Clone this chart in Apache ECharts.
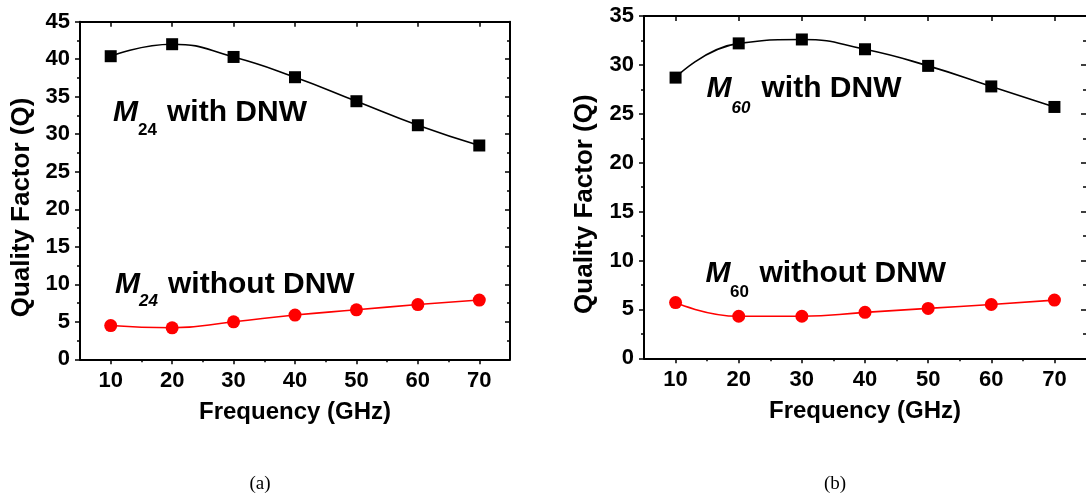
<!DOCTYPE html>
<html>
<head>
<meta charset="utf-8">
<script src="https://cdn.jsdelivr.net/npm/echarts@6/dist/echarts.min.js"></script>
<style>
  html, body { margin: 0; padding: 0; background: #fff; }
  #chart { width: 1086px; height: 501px; }
</style>
</head>
<body>
<div id="chart"></div>
<script>
// Frequency points (GHz)
const freq = [10, 20, 30, 40, 50, 60, 70];
// Quality factor, M24 inductor
const q24With = [40.4, 42.0, 40.3, 37.6, 34.4, 31.2, 28.5];
const q24Without = [4.5, 4.2, 5.0, 5.9, 6.6, 7.3, 7.9];
// Quality factor, M60 inductor
const q60With = [28.7, 32.2, 32.6, 31.6, 29.9, 27.8, 25.7];
const q60Without = [5.7, 4.3, 4.3, 4.7, 5.1, 5.5, 5.95];
// Tick positions on the frequency axis
const xMajorTicks = [10, 20, 30, 40, 50, 60, 70];
const xMinorTicks = [15, 25, 35, 45, 55, 65];

const SANS = '"Liberation Sans", Arial, Helvetica, sans-serif';
const SERIF = '"Liberation Serif", "Times New Roman", serif';

const pair = (xs, ys) => xs.map((x, i) => [x, ys[i]]);

const axisLine = { show: true, onZero: false, lineStyle: { color: '#000', width: 2 } };

function xAxesFor(gridIndex) {
  const base = { type: 'value', gridIndex, min: 5, max: 75, splitLine: { show: false } };
  return [
    Object.assign({}, base, {
      position: 'bottom',
      name: 'Frequency (GHz)', nameLocation: 'middle', nameGap: 41,
      nameTextStyle: { fontFamily: SANS, fontWeight: 'bold', fontSize: 24, color: '#000' },
      axisLine,
      axisTick: { show: true, inside: false, length: 5, customValues: xMajorTicks, lineStyle: { color: '#000', width: 1.5 } },
      axisLabel: { show: true, customValues: xMajorTicks, margin: 11, fontFamily: SANS, fontWeight: 'bold', fontSize: 22, color: '#000' }
    }),
    Object.assign({}, base, {
      position: 'bottom',
      axisLine: { show: false },
      axisTick: { show: true, inside: false, length: 3, customValues: xMinorTicks, lineStyle: { color: '#000', width: 1.5 } },
      axisLabel: { show: false }
    }),
    Object.assign({}, base, {
      position: 'top',
      axisLine,
      axisTick: { show: true, inside: true, length: 5, customValues: xMajorTicks, lineStyle: { color: '#000', width: 1.5 } },
      axisLabel: { show: false }
    }),
    Object.assign({}, base, {
      position: 'top',
      axisLine: { show: false },
      axisTick: { show: true, inside: true, length: 3, customValues: xMinorTicks, lineStyle: { color: '#000', width: 1.5 } },
      axisLabel: { show: false }
    })
  ];
}

function yAxesFor(gridIndex, max, nameGap, rightLine) {
  const base = {
    type: 'value', gridIndex, min: 0, max, interval: 5, splitLine: { show: false },
    axisLine
  };
  return [
    Object.assign({}, base, {
      position: 'left',
      name: 'Quality Factor (Q)', nameLocation: 'middle', nameGap,
      nameTextStyle: { fontFamily: SANS, fontWeight: 'bold', fontSize: 26, color: '#000', padding: [0, 34, 0, 0] },
      axisTick: { show: true, inside: false, length: 5, lineStyle: { color: '#000', width: 1.5 } },
      minorTick: { show: true, splitNumber: 2, length: 3, lineStyle: { color: '#000', width: 1.5 } },
      axisLabel: { show: true, margin: 10, fontFamily: SANS, fontWeight: 'bold', fontSize: 22, color: '#000' }
    }),
    Object.assign({}, base, {
      position: 'right',
      axisLine: rightLine ? axisLine : { show: false },
      axisTick: { show: true, inside: true, length: 5, lineStyle: { color: '#000', width: 1.5 } },
      minorTick: { show: true, splitNumber: 2, length: 3, lineStyle: { color: '#000', width: 1.5 } },
      axisLabel: { show: false }
    })
  ];
}

function curve(data, color, symbol, size, xAxisIndex, yAxisIndex) {
  return {
    type: 'line', data, xAxisIndex, yAxisIndex, smooth: 0.5,
    symbol, symbolSize: size, showSymbol: true,
    itemStyle: { color, borderWidth: 0 },
    lineStyle: { color, width: 1.6 },
    emphasis: { disabled: true },
    z: 3
  };
}

// Label pieces: italic M, subscript index, then the description
function label(x, mY, text, idx, idxItalic, subX, subY, textX) {
  return [
    { type: 'text', x, y: mY, style: { text: 'M', font: 'italic bold 30px ' + SANS, fill: '#000', verticalAlign: 'middle' } },
    { type: 'text', x: subX, y: subY, style: { text: idx, font: (idxItalic ? 'italic ' : '') + 'bold 17px ' + SANS, fill: '#000', verticalAlign: 'middle' } },
    { type: 'text', x: textX, y: mY, style: { text, font: 'bold 30px ' + SANS, fill: '#000', verticalAlign: 'middle' } }
  ];
}

const chart = echarts.init(document.getElementById('chart'), null, { renderer: 'canvas' });
chart.setOption({
  animation: false,
  backgroundColor: '#fff',
  grid: [
    { left: 80, top: 21.7, width: 430, height: 337.6 },
    { left: 644, top: 16, width: 442, height: 342.3 }
  ],
  xAxis: xAxesFor(0).concat(xAxesFor(1)),
  yAxis: yAxesFor(0, 45, 45, true).concat(yAxesFor(1, 35, 46, false)),
  series: [
    curve(pair(freq, q24With), '#000', 'rect', 12, 0, 0),
    curve(pair(freq, q24Without), '#ff0000', 'circle', 13, 0, 0),
    curve(pair(freq, q60With), '#000', 'rect', 12, 4, 2),
    curve(pair(freq, q60Without), '#ff0000', 'circle', 13, 4, 2)
  ],
  graphic: [].concat(
    label(113, 113, 'with DNW', '24', false, 138, 130, 167),
    label(115, 285, 'without DNW', '24', true, 139, 301, 168),
    label(706.5, 89, 'with DNW', '60', true, 731.5, 108, 761.5),
    label(705.5, 274, 'without DNW', '60', false, 730, 292, 759.5),
    [
      { type: 'text', x: 260, y: 484, style: { text: '(a)', font: '19px ' + SERIF, fill: '#000', align: 'center', verticalAlign: 'middle' } },
      { type: 'text', x: 835, y: 484, style: { text: '(b)', font: '19px ' + SERIF, fill: '#000', align: 'center', verticalAlign: 'middle' } }
    ]
  )
});
</script>
</body>
</html>
